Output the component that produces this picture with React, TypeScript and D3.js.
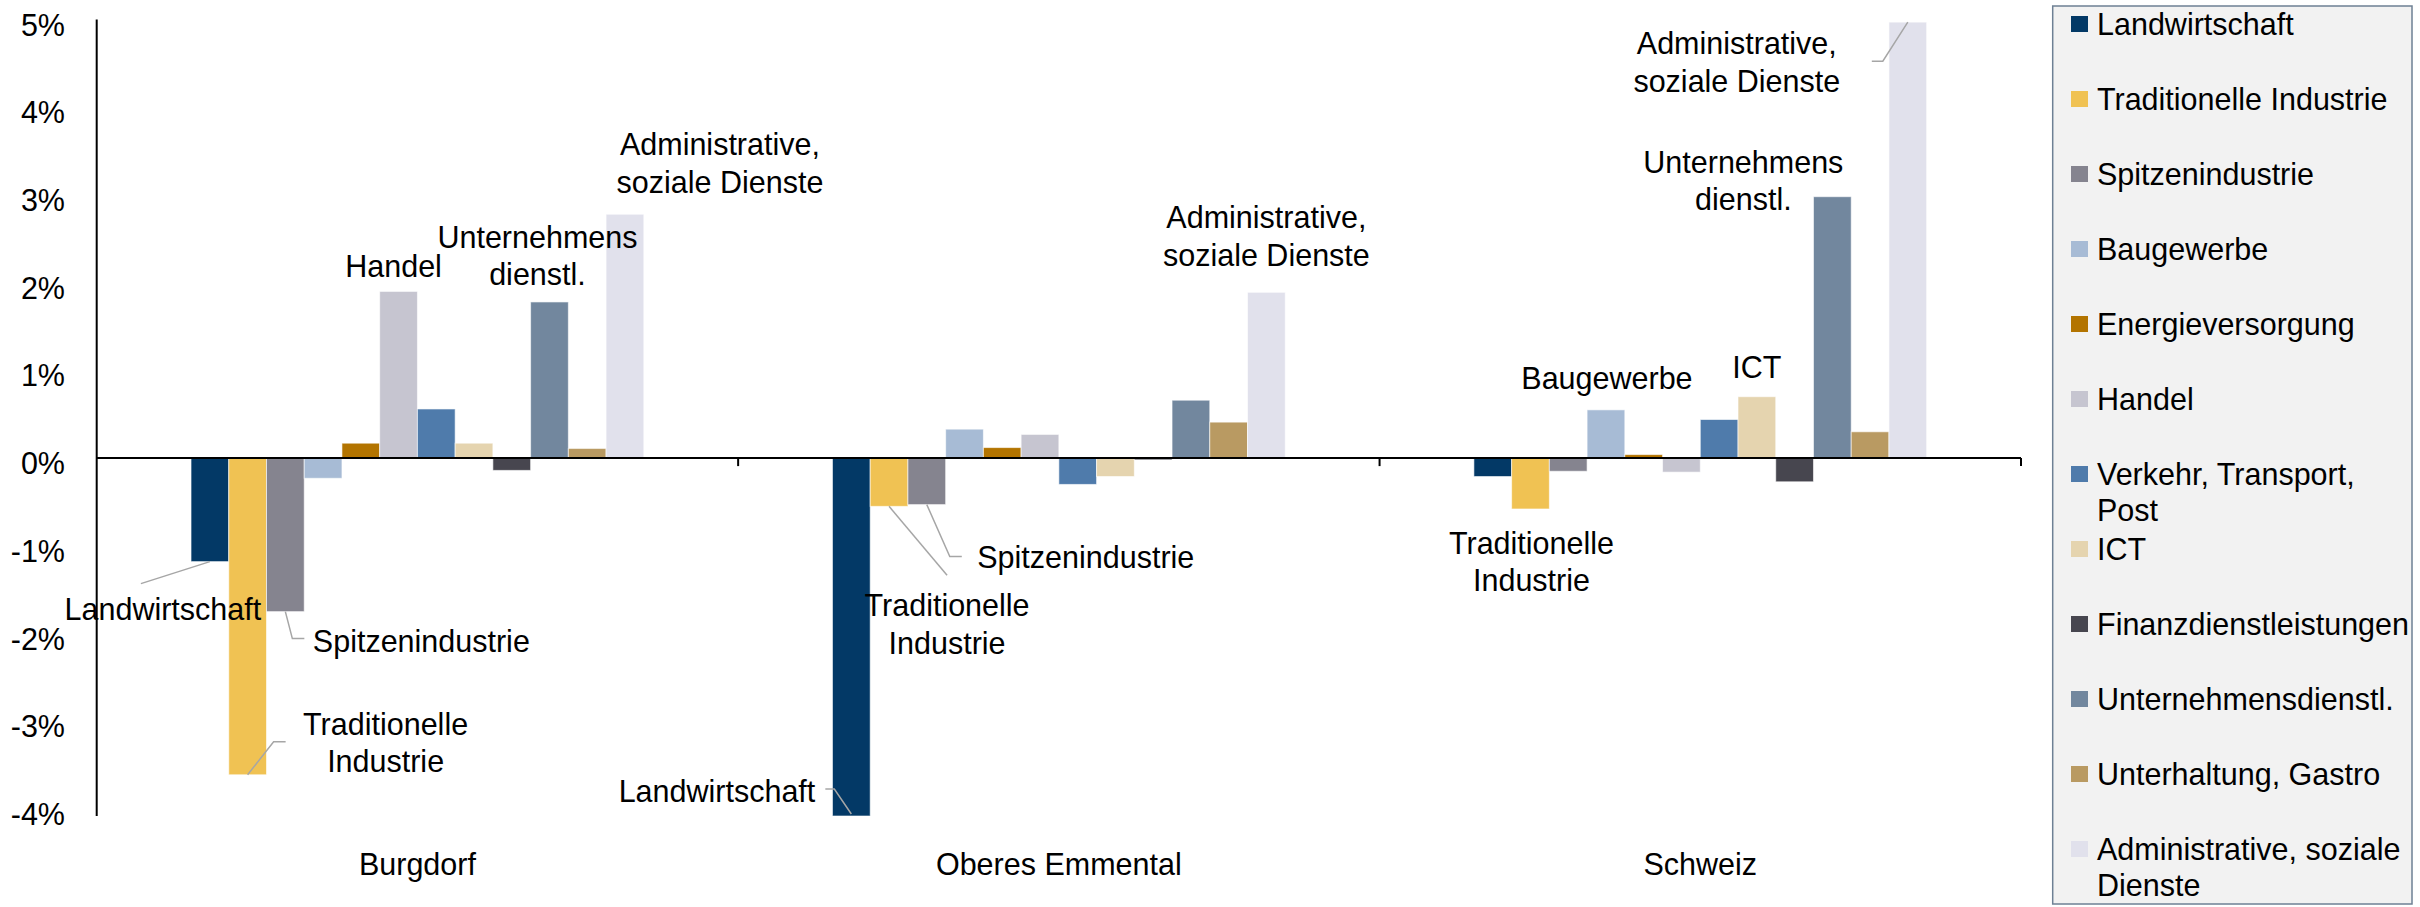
import React from "react";
import * as d3 from "d3";

const groups = ["Burgdorf", "Oberes Emmental", "Schweiz"];

const sectors = [
  "Landwirtschaft",
  "Traditionelle Industrie",
  "Spitzenindustrie",
  "Baugewerbe",
  "Energieversorgung",
  "Handel",
  "Verkehr, Transport, Post",
  "ICT",
  "Finanzdienstleistungen",
  "Unternehmensdienstl.",
  "Unterhaltung, Gastro",
  "Administrative, soziale Dienste",
];

const sectorColors = [
  "#033966", "#F0C253", "#85848F", "#A7BBD5", "#B37400", "#C6C5D0",
  "#4F7BAB", "#E5D4AF", "#47464F", "#72879E", "#B99A62", "#E1E1EC",
];

// legend wraps like the original
const legendLines = [
  ["Landwirtschaft"],
  ["Traditionelle Industrie"],
  ["Spitzenindustrie"],
  ["Baugewerbe"],
  ["Energieversorgung"],
  ["Handel"],
  ["Verkehr, Transport,", "Post"],
  ["ICT"],
  ["Finanzdienstleistungen"],
  ["Unternehmensdienstl."],
  ["Unterhaltung, Gastro"],
  ["Administrative, soziale", "Dienste"],
];

// change in %, same order as sectors
const valuesBurgdorf = [-1.18, -3.61, -1.75, -0.23, 0.17, 1.9, 0.56, 0.17, -0.14, 1.78, 0.11, 2.78];
const valuesOberesEmmental = [-4.08, -0.55, -0.53, 0.33, 0.12, 0.27, -0.3, -0.21, -0.02, 0.66, 0.41, 1.89];
const valuesSchweiz = [-0.21, -0.58, -0.15, 0.55, 0.04, -0.16, 0.44, 0.7, -0.27, 2.98, 0.3, 4.97];

const yTicks = [5, 4, 3, 2, 1, 0, -1, -2, -3, -4];

// callouts: offsets relative to the end of the bar
const callouts = [
  { g: 0, s: 0, lines: ["Landwirtschaft"], dx: -47, dy: 47, anchor: "middle", leader: [[0, 0], [-69, 22]] },
  { g: 0, s: 1, lines: ["Traditionelle", "Industrie"], dx: 138, dy: -51, anchor: "middle", leader: [[0, 0], [26, -33], [38, -33]] },
  { g: 0, s: 2, lines: ["Spitzenindustrie"], dx: 136, dy: 29, anchor: "middle", leader: [[0, 0], [7, 27], [19, 27]] },
  { g: 0, s: 5, lines: ["Handel"], dx: -5, dy: -25, anchor: "middle", leader: null },
  { g: 0, s: 9, lines: ["Unternehmens", "dienstl."], dx: -12, dy: -65, anchor: "middle", leader: null },
  { g: 0, s: 11, lines: ["Administrative,", "soziale Dienste"], dx: 95, dy: -70, anchor: "middle", leader: null },
  { g: 1, s: 0, lines: ["Landwirtschaft"], dx: -36, dy: -25, anchor: "end", leader: [[0, -2], [-17, -27], [-26, -27]] },
  { g: 1, s: 1, lines: ["Traditionelle", "Industrie"], dx: 58, dy: 99, anchor: "middle", leader: [[0, 0], [58, 69]] },
  { g: 1, s: 2, lines: ["Spitzenindustrie"], dx: 159, dy: 52, anchor: "middle", leader: [[0, 0], [23, 52], [35, 52]] },
  { g: 1, s: 11, lines: ["Administrative,", "soziale Dienste"], dx: 0, dy: -75, anchor: "middle", leader: null },
  { g: 2, s: 1, lines: ["Traditionelle", "Industrie"], dx: 1, dy: 34, anchor: "middle", leader: null },
  { g: 2, s: 3, lines: ["Baugewerbe"], dx: 1, dy: -32, anchor: "middle", leader: null },
  { g: 2, s: 7, lines: ["ICT"], dx: 0, dy: -30, anchor: "middle", leader: null },
  { g: 2, s: 9, lines: ["Unternehmens", "dienstl."], dx: -89, dy: -35, anchor: "middle", leader: null },
  { g: 2, s: 11, lines: ["Administrative,", "soziale Dienste"], dx: -171, dy: 21, anchor: "middle", leader: [[0, 0], [-25, 39], [-36, 39]] },
];

const W = 2420;
const H = 907;
const FONT = "'Liberation Sans', Arial, Helvetica, sans-serif";
const FS = 30.5;
const LINE_H = 37.5;

export default function App() {
  const values = [valuesBurgdorf, valuesOberesEmmental, valuesSchweiz];

  const y = d3.scaleLinear().domain([-4.08, 5]).range([816, 19.5]);
  const x0 = d3.scaleBand<string>().domain(groups).range([96.7, 2021]).padding(0);
  const x1 = d3
    .scaleBand<string>()
    .domain(sectors)
    .range([0, x0.bandwidth()])
    .paddingInner(0)
    .paddingOuter(2.5);

  const barCx = (g: number, s: number) =>
    (x0(groups[g]) as number) + (x1(sectors[s]) as number) + x1.bandwidth() / 2;

  const legendX = 2052.7;
  const legendTop = 6;
  const legendStep = 75;

  return (
    <svg
      width={W}
      height={H}
      style={{ position: "absolute", left: 0, top: 0, background: "#fff" }}
      fontFamily={FONT}
      fontSize={FS}
    >
      {/* bars */}
      {groups.map((g, gi) => (
        <g key={g} transform={`translate(${x0(g)},0)`}>
          {sectors.map((s, si) => {
            const v = values[gi][si];
            return (
              <rect
                key={s}
                x={x1(s)}
                width={x1.bandwidth()}
                y={Math.min(y(v), y(0))}
                height={Math.abs(y(v) - y(0))}
                fill={sectorColors[si]}
                stroke="#ffffff"
                strokeOpacity={0.6}
                strokeWidth={1}
              />
            );
          })}
        </g>
      ))}

      {/* y axis */}
      <line x1={x0.range()[0]} x2={x0.range()[0]} y1={y.range()[1]} y2={y.range()[0]} stroke="#000" strokeWidth={2} />
      {yTicks.map((t) => (
        <text key={t} x={65} y={y(t) + 5} textAnchor="end" dominantBaseline="central" fill="#000">
          {`${t}%`}
        </text>
      ))}

      {/* zero line with category ticks */}
      <line x1={x0.range()[0]} x2={x0.range()[1]} y1={y(0)} y2={y(0)} stroke="#000" strokeWidth={2} />
      {groups.map((g, gi) => {
        const xe = (x0(g) as number) + x0.bandwidth();
        return (
          <g key={g}>
            <line x1={xe} x2={xe} y1={y(0)} y2={y(0) + 8} stroke="#000" strokeWidth={2} />
            <text
              x={(x0(g) as number) + x0.bandwidth() / 2}
              y={875}
              textAnchor="middle"
              fill="#000"
            >
              {g}
            </text>
          </g>
        );
      })}

      {/* callouts */}
      {callouts.map((c, i) => {
        const cx = barCx(c.g, c.s);
        const cy = y(values[c.g][c.s]);
        return (
          <g key={i}>
            {c.leader && (
              <polyline
                points={c.leader.map(([a, b]) => `${cx + a},${cy + b}`).join(" ")}
                fill="none"
                stroke="#A6A6A6"
                strokeWidth={1.5}
              />
            )}
            {c.lines.map((ln, li) => (
              <text
                key={li}
                x={cx + c.dx}
                y={cy + c.dy + li * LINE_H}
                textAnchor={c.anchor as any}
                dominantBaseline="central"
                fill="#000"
              >
                {ln}
              </text>
            ))}
          </g>
        );
      })}

      {/* legend */}
      <rect x={legendX} y={legendTop} width={2412 - legendX} height={904 - legendTop} fill="#F2F2F2" stroke="#6E8094" strokeWidth={1.5} />
      {sectors.map((s, si) => {
        const cy = 24 + si * legendStep;
        return (
          <g key={s}>
            <rect x={2071} y={cy - 8} width={17} height={16} fill={sectorColors[si]} />
            {legendLines[si].map((ln, li) => (
              <text key={li} x={2097} y={cy + li * 36} dominantBaseline="central" fill="#000">
                {ln}
              </text>
            ))}
          </g>
        );
      })}
    </svg>
  );
}
